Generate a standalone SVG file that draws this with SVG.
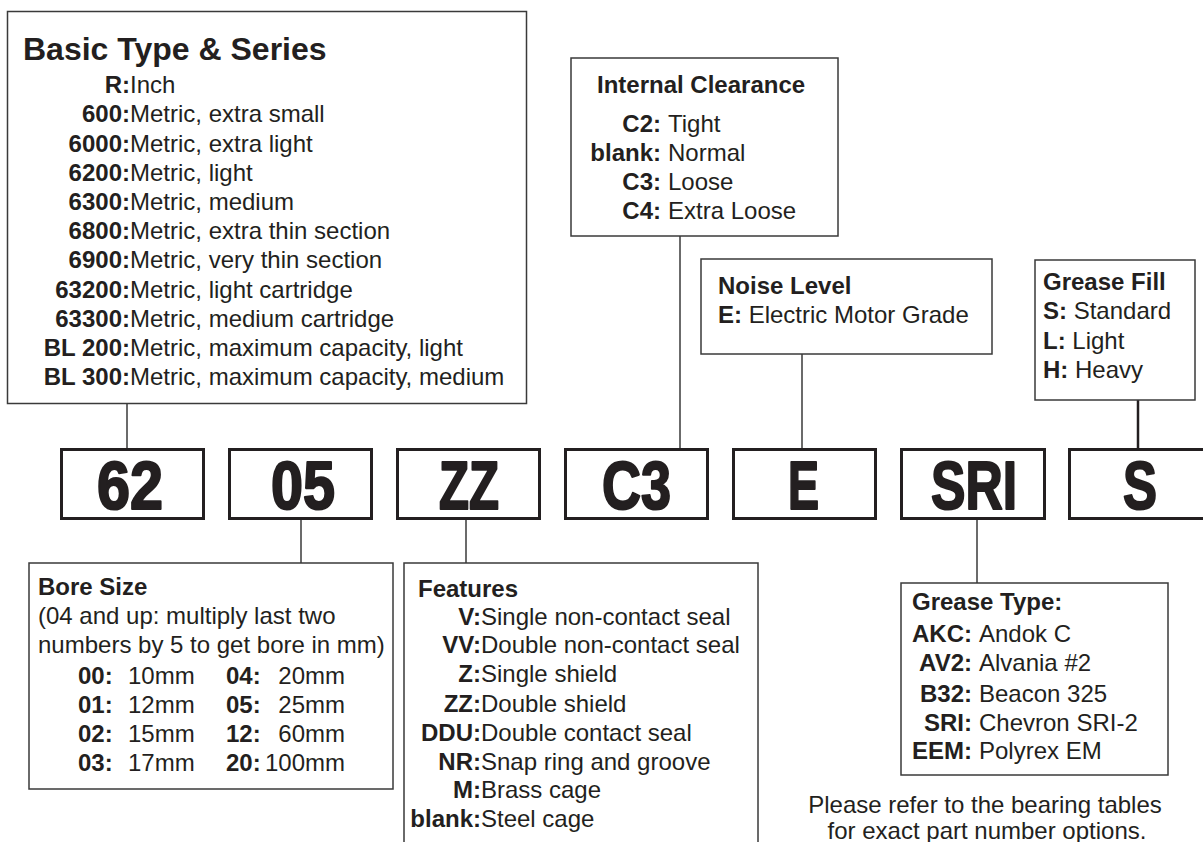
<svg xmlns="http://www.w3.org/2000/svg" width="1203" height="842" viewBox="0 0 1203 842">
<style>
text{font-family:"Liberation Sans",Arial,sans-serif;font-size:24px;fill:#231f20}
.b{font-weight:bold}
.e{text-anchor:end}
.m{text-anchor:middle}
.box{fill:#fff;stroke:#3a3a3a;stroke-width:1.5}
.code{fill:#fff;stroke:#231f20;stroke-width:3}
.ct{font-size:69px;font-weight:bold;stroke:#231f20;stroke-width:2.2;stroke-linejoin:round}
.con line{stroke:#3a3a3a;stroke-width:1.5}
</style>
<rect width="1203" height="842" fill="#fff"/>
<g class="con">
<line x1="127" y1="404" x2="127" y2="448"/>
<line x1="680" y1="236" x2="680" y2="448"/>
<line x1="802" y1="354" x2="802" y2="448"/>
<line x1="1138" y1="400" x2="1138" y2="448" style="stroke:#231f20;stroke-width:2.5"/>
<line x1="301" y1="520" x2="301" y2="563"/>
<line x1="466" y1="520" x2="466" y2="563"/>
<line x1="977" y1="520" x2="977" y2="583"/>
</g>
<g id="basic-type">
<rect class="box" x="7.5" y="11.5" width="519" height="392"/>
<text class="b" x="23" y="60" style="font-size:32px">Basic Type &amp; Series</text>
<text class="b e" x="130" y="93">R:</text><text x="130" y="93">Inch</text>
<text class="b e" x="130" y="122">600:</text><text x="130" y="122">Metric, extra small</text>
<text class="b e" x="130" y="152">6000:</text><text x="130" y="152">Metric, extra light</text>
<text class="b e" x="130" y="181">6200:</text><text x="130" y="181">Metric, light</text>
<text class="b e" x="130" y="210">6300:</text><text x="130" y="210">Metric, medium</text>
<text class="b e" x="130" y="239">6800:</text><text x="130" y="239">Metric, extra thin section</text>
<text class="b e" x="130" y="268">6900:</text><text x="130" y="268">Metric, very thin section</text>
<text class="b e" x="130" y="298">63200:</text><text x="130" y="298">Metric, light cartridge</text>
<text class="b e" x="130" y="327">63300:</text><text x="130" y="327">Metric, medium cartridge</text>
<text class="b e" x="130" y="356">BL 200:</text><text x="130" y="356">Metric, maximum capacity, light</text>
<text class="b e" x="130" y="385">BL 300:</text><text x="130" y="385">Metric, maximum capacity, medium</text>
</g>
<g id="internal-clearance">
<rect class="box" x="571" y="58" width="267" height="178"/>
<text class="b" x="597" y="93">Internal Clearance</text>
<text class="b e" x="661" y="132">C2:</text><text x="668" y="132">Tight</text>
<text class="b e" x="661" y="161">blank:</text><text x="668" y="161">Normal</text>
<text class="b e" x="661" y="190">C3:</text><text x="668" y="190">Loose</text>
<text class="b e" x="661" y="219">C4:</text><text x="668" y="219">Extra Loose</text>
</g>
<g id="noise-level">
<rect class="box" x="701" y="259" width="291" height="95"/>
<text class="b" x="718" y="294">Noise Level</text>
<text x="718" y="323"><tspan class="b">E:</tspan> Electric Motor Grade</text>
</g>
<g id="grease-fill">
<rect class="box" x="1035" y="260" width="160" height="140"/>
<text class="b" x="1043" y="290">Grease Fill</text>
<text x="1043" y="319"><tspan class="b">S:</tspan> Standard</text>
<text x="1043" y="349"><tspan class="b">L:</tspan> Light</text>
<text x="1043" y="378"><tspan class="b">H:</tspan> Heavy</text>
</g>
<g id="code-62"><rect class="code" x="61.5" y="449.5" width="142" height="69"/><text class="ct" x="97" y="509" textLength="66" lengthAdjust="spacingAndGlyphs">62</text></g>
<g id="code-05"><rect class="code" x="229.5" y="449.5" width="142" height="69"/><text class="ct" x="271" y="509" textLength="64" lengthAdjust="spacingAndGlyphs">05</text></g>
<g id="code-ZZ"><rect class="code" x="397.5" y="449.5" width="142" height="69"/><text class="ct" x="439" y="509" textLength="60" lengthAdjust="spacingAndGlyphs">ZZ</text></g>
<g id="code-C3"><rect class="code" x="565.5" y="449.5" width="142" height="69"/><text class="ct" x="602" y="509" textLength="69" lengthAdjust="spacingAndGlyphs">C3</text></g>
<g id="code-E"><rect class="code" x="733.5" y="449.5" width="142" height="69"/><text class="ct" x="788" y="509" textLength="31" lengthAdjust="spacingAndGlyphs">E</text></g>
<g id="code-SRI"><rect class="code" x="901.5" y="449.5" width="143" height="69"/><text class="ct" x="931" y="509" textLength="86" lengthAdjust="spacingAndGlyphs">SRI</text></g>
<g id="code-S"><rect class="code" x="1069.5" y="449.5" width="142" height="69"/><text class="ct" x="1123" y="509" textLength="34" lengthAdjust="spacingAndGlyphs">S</text></g>
<g id="bore-size">
<rect class="box" x="29" y="563" width="364" height="226"/>
<text class="b" x="38" y="595">Bore Size</text>
<text x="38" y="624">(04 and up: multiply last two</text>
<text x="38" y="653">numbers by 5 to get bore in mm)</text>
<text class="b" x="78" y="684">00:</text><text x="128" y="684">10mm</text><text class="b" x="226" y="684">04:</text><text class="e" x="345" y="684">20mm</text>
<text class="b" x="78" y="713">01:</text><text x="128" y="713">12mm</text><text class="b" x="226" y="713">05:</text><text class="e" x="345" y="713">25mm</text>
<text class="b" x="78" y="742">02:</text><text x="128" y="742">15mm</text><text class="b" x="226" y="742">12:</text><text class="e" x="345" y="742">60mm</text>
<text class="b" x="78" y="771">03:</text><text x="128" y="771">17mm</text><text class="b" x="226" y="771">20:</text><text class="e" x="345" y="771">100mm</text>
</g>
<g id="features">
<rect class="box" x="404" y="563" width="354" height="300"/>
<text class="b" x="418" y="597">Features</text>
<text class="b e" x="481" y="625">V:</text><text x="481" y="625">Single non-contact seal</text>
<text class="b e" x="481" y="653">VV:</text><text x="481" y="653">Double non-contact seal</text>
<text class="b e" x="481" y="682">Z:</text><text x="481" y="682">Single shield</text>
<text class="b e" x="481" y="712">ZZ:</text><text x="481" y="712">Double shield</text>
<text class="b e" x="481" y="741">DDU:</text><text x="481" y="741">Double contact seal</text>
<text class="b e" x="481" y="770">NR:</text><text x="481" y="770">Snap ring and groove</text>
<text class="b e" x="481" y="798">M:</text><text x="481" y="798">Brass cage</text>
<text class="b e" x="481" y="827">blank:</text><text x="481" y="827">Steel cage</text>
</g>
<g id="grease-type">
<rect class="box" x="901" y="583" width="267" height="192"/>
<text class="b" x="912" y="610">Grease Type:</text>
<text class="b e" x="972" y="642">AKC:</text><text x="979" y="642">Andok C</text>
<text class="b e" x="972" y="671">AV2:</text><text x="979" y="671">Alvania #2</text>
<text class="b e" x="972" y="702">B32:</text><text x="979" y="702">Beacon 325</text>
<text class="b e" x="972" y="731">SRI:</text><text x="979" y="731">Chevron SRI-2</text>
<text class="b e" x="972" y="759">EEM:</text><text x="979" y="759">Polyrex EM</text>
</g>
<g id="note">
<text class="m" x="985" y="813">Please refer to the bearing tables</text>
<text class="m" x="987" y="839">for exact part number options.</text>
</g>
</svg>
